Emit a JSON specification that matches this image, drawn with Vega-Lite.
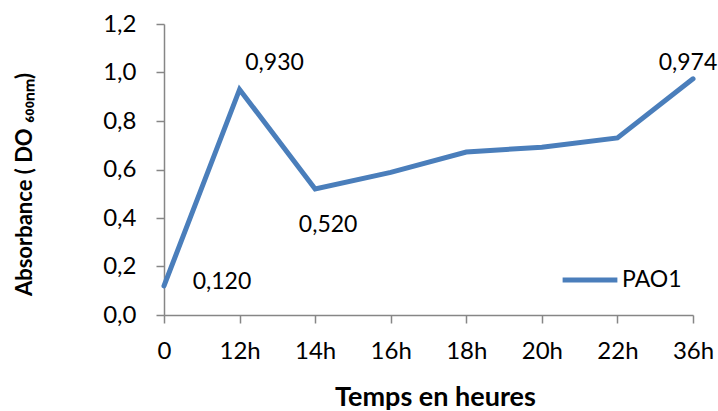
{
  "$schema": "https://vega.github.io/schema/vega-lite/v6.json",
  "autosize": "none",
  "width": 529,
  "height": 291,
  "padding": {"left": 164, "top": 24, "right": 25, "bottom": 96},
  "background": "white",
  "config": {
    "locale": {"number": {"decimal": ",", "thousands": " ", "grouping": [3], "currency": ["", " €"]}},
    "font": "Lato",
    "view": {"stroke": null},
    "axis": {
      "domainColor": "#868686",
      "domainWidth": 1.5,
      "tickColor": "#868686",
      "tickWidth": 1.5,
      "tickSize": 8,
      "grid": false,
      "labelFont": "Lato",
      "labelFontSize": 24,
      "labelColor": "#000000",
      "titleFont": "Lato",
      "titleFontWeight": "bold",
      "titleColor": "#000000"
    }
  },
  "data": {
    "values": [
      {"temps": "0", "absorbance": 0.120, "souche": "PAO1"},
      {"temps": "12h", "absorbance": 0.930, "souche": "PAO1"},
      {"temps": "14h", "absorbance": 0.520, "souche": "PAO1"},
      {"temps": "16h", "absorbance": 0.588, "souche": "PAO1"},
      {"temps": "18h", "absorbance": 0.672, "souche": "PAO1"},
      {"temps": "20h", "absorbance": 0.692, "souche": "PAO1"},
      {"temps": "22h", "absorbance": 0.730, "souche": "PAO1"},
      {"temps": "36h", "absorbance": 0.974, "souche": "PAO1"}
    ]
  },
  "encoding": {
    "x": {
      "field": "temps",
      "type": "ordinal",
      "sort": null,
      "scale": {"type": "point", "padding": 0},
      "axis": {
        "title": "Temps en heures",
        "titleFontSize": 27,
        "titlePadding": 21,
        "titleX": 271,
        "labelAngle": 0,
        "labelPadding": 16
      }
    },
    "y": {
      "field": "absorbance",
      "type": "quantitative",
      "scale": {"domain": [0, 1.2]},
      "axis": {
        "title": "Absorbance ( DO ₆₀₀ₙₘ)",
        "titleFontSize": 22,
        "titlePadding": 66,
        "titleY": 160,
        "values": [0, 0.2, 0.4, 0.6, 0.8, 1.0, 1.2],
        "format": ".1f",
        "labelPadding": 20
      }
    }
  },
  "layer": [
    {
      "mark": {"type": "line", "strokeWidth": 5, "strokeJoin": "miter", "strokeCap": "round"},
      "encoding": {
        "color": {
          "field": "souche",
          "type": "nominal",
          "scale": {"range": ["#4a7ebb"]},
          "legend": {
            "title": null,
            "orient": "none",
            "legendX": 396,
            "legendY": 226,
            "symbolType": "stroke",
            "symbolSize": 3000,
            "symbolStrokeWidth": 5,
            "labelFontSize": 23,
            "labelColor": "#000000",
            "labelOffset": 2
          }
        }
      }
    },
    {
      "transform": [{"filter": "datum.temps == '0'"}],
      "mark": {"type": "text", "fontSize": 23, "dx": 58, "dy": -4, "baseline": "middle"},
      "encoding": {"text": {"field": "absorbance", "type": "quantitative", "format": ".3f"}}
    },
    {
      "transform": [{"filter": "datum.temps == '12h'"}],
      "mark": {"type": "text", "fontSize": 23, "dx": 35, "dy": -26, "baseline": "middle"},
      "encoding": {"text": {"field": "absorbance", "type": "quantitative", "format": ".3f"}}
    },
    {
      "transform": [{"filter": "datum.temps == '14h'"}],
      "mark": {"type": "text", "fontSize": 23, "dx": 13, "dy": 36, "baseline": "middle"},
      "encoding": {"text": {"field": "absorbance", "type": "quantitative", "format": ".3f"}}
    },
    {
      "transform": [{"filter": "datum.temps == '36h'"}],
      "mark": {"type": "text", "fontSize": 23, "dx": -5, "dy": -16, "baseline": "middle"},
      "encoding": {"text": {"field": "absorbance", "type": "quantitative", "format": ".3f"}}
    }
  ]
}
